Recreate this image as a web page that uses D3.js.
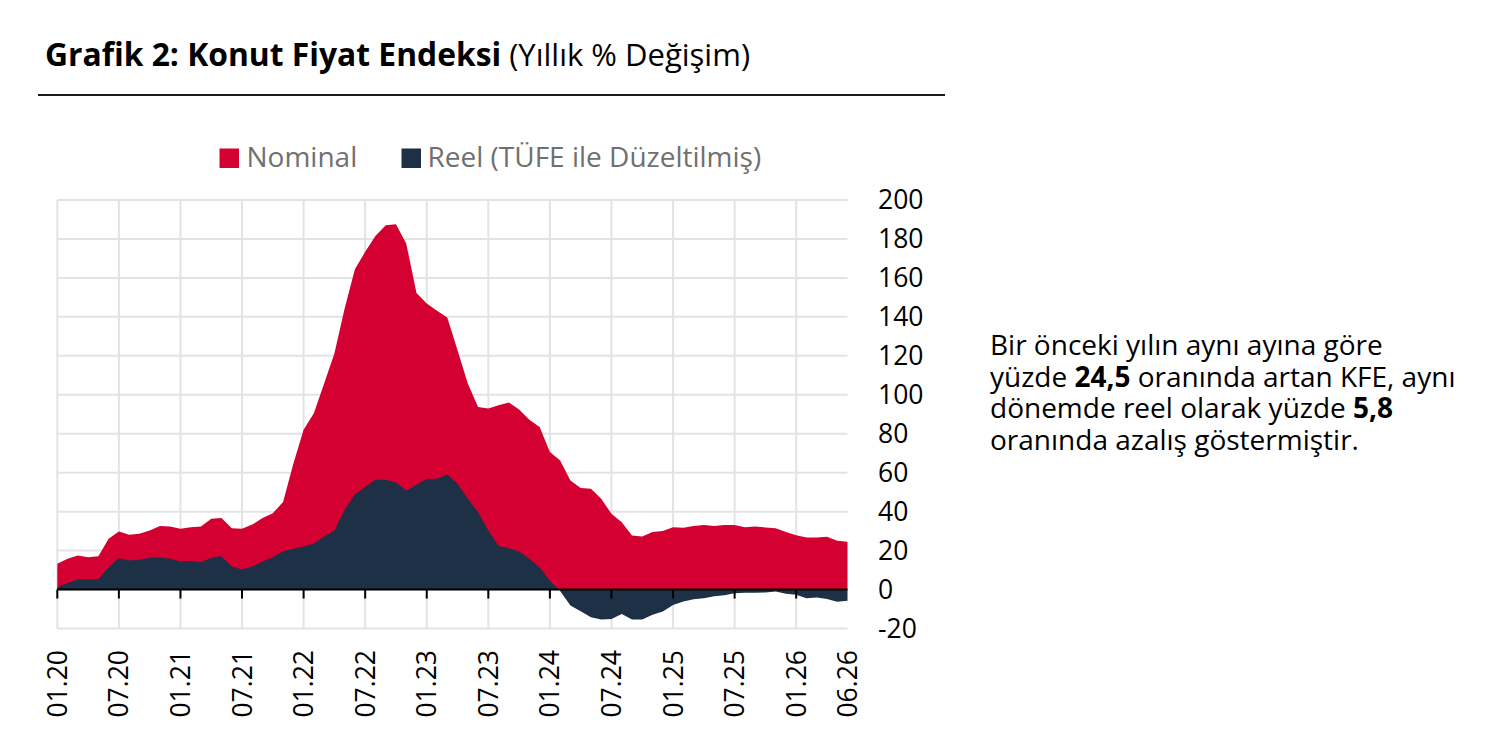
<!DOCTYPE html>
<html><head><meta charset="utf-8">
<script src="https://cdn.jsdelivr.net/npm/d3@7/dist/d3.min.js"></script>
<style>
html,body{margin:0;padding:0;background:#fff;}
svg{display:block;font-family:"Open Sans",sans-serif;}
</style></head>
<body>
<svg id="chart" width="1489" height="750"></svg>
<script>
// Monthly data, 01.2020 .. 06.2026
const nominal = [13.2,15.8,17.5,16.6,17.1,26.1,29.8,28.1,28.6,30.3,32.6,32.4,
  31.2,32.0,32.4,36.3,36.7,31.5,31.2,33.4,36.7,39.2,44.9,64.6,
  82.1,90.5,105.8,121.2,144.3,164.5,173.4,181.5,187.1,187.5,177.7,152.3,
  146.9,143.1,139.7,122.9,105.8,93.7,92.9,94.6,96.0,92.5,87.2,83.4,
  70.6,66.3,56.0,52.1,51.8,46.6,38.9,34.6,27.8,27.2,29.5,30.0,
  32.0,31.7,32.6,33.1,32.6,33.1,33.1,32.0,32.4,31.9,31.5,29.5,
  27.9,26.7,26.7,27.1,25.0,24.5];
const real = [1.2,3.3,5.1,5.3,5.3,11.5,16.1,14.9,15.3,16.3,16.5,15.8,
  14.4,14.6,14.0,16.3,17.1,11.8,10.3,11.8,14.4,16.6,19.7,20.9,
  22.1,23.7,27.2,30.3,41.0,48.8,52.6,56.4,56.4,54.9,50.9,53.8,
  56.7,56.9,59.1,54.3,46.6,39.7,30.3,22.3,21.2,19.5,15.8,11.5,
  4.5,-0.8,-8.2,-11.1,-14.2,-15.4,-15.1,-12.5,-15.4,-15.4,-13.0,-11.3,
  -7.9,-6.2,-5.0,-4.5,-3.4,-2.9,-1.9,-1.7,-1.7,-1.5,-1.0,-2.2,
  -2.7,-4.5,-4.1,-4.8,-6.3,-5.8];
const xTickIdx = [0,6,12,18,24,30,36,42,48,54,60,66,72,77];
const xTickLabels = ["01.20","07.20","01.21","07.21","01.22","07.22","01.23","07.23","01.24","07.24","01.25","07.25","01.26","06.26"];
const yTicks = [-20,0,20,40,60,80,100,120,140,160,180,200];
const seriesNames = ["Nominal","Reel (TÜFE ile Düzeltilmiş)"];
const colors = ["#d50032","#1d3045"];

const svg = d3.select("#chart");
const x = d3.scaleLinear().domain([0, nominal.length-1]).range([57.3, 847.5]);
const y = d3.scaleLinear().domain([-20,200]).range([628.5,200]);

// Title
const t = svg.append("text").attr("x",45).attr("y",65.5).attr("font-size",31.8).attr("fill","#000");
t.append("tspan").attr("font-weight",700).text("Grafik 2: Konut Fiyat Endeksi");
t.append("tspan").attr("font-weight",400).attr("font-size",31).text(" (Yıllık % Değişim)");
svg.append("line").attr("x1",38).attr("x2",945).attr("y1",95).attr("y2",95)
  .attr("stroke","#1a1a1a").attr("stroke-width",2);

// Legend
const leg = [{x:219.5,tx:246.5},{x:401.5,tx:427.5}];
seriesNames.forEach((n,i)=>{
  svg.append("rect").attr("x",leg[i].x).attr("y",148.5).attr("width",19.5).attr("height",19.5).attr("fill",colors[i]);
  svg.append("text").attr("x",leg[i].tx).attr("y",167).attr("font-size",28).attr("fill","#707070").text(n);
});

// Gridlines
const g = svg.append("g");
g.selectAll("line.h").data(yTicks).join("line")
  .attr("x1",x.range()[0]).attr("x2",x.range()[1]).attr("y1",d=>y(d)).attr("y2",d=>y(d))
  .attr("stroke","#e3e3e3").attr("stroke-width",2);
g.selectAll("line.v").data(xTickIdx.slice(0,-1)).join("line")
  .attr("x1",d=>x(d)).attr("x2",d=>x(d)).attr("y1",y(200)).attr("y2",y(-20))
  .attr("stroke","#e3e3e3").attr("stroke-width",2);

// Areas
const area = d3.area().x((d,i)=>x(i)).y0(y(0)).y1(d=>y(d));
svg.append("path").datum(nominal).attr("d",area).attr("fill",colors[0]);
svg.append("path").datum(real).attr("d",area).attr("fill",colors[1]);

// Zero axis + ticks
svg.append("line").attr("x1",x.range()[0]).attr("x2",x.range()[1]).attr("y1",y(0)).attr("y2",y(0))
  .attr("stroke","#000").attr("stroke-width",2);
svg.selectAll("line.tick").data(xTickIdx.slice(0,-1)).join("line")
  .attr("x1",d=>x(d)).attr("x2",d=>x(d)).attr("y1",y(0)).attr("y2",y(0)+9)
  .attr("stroke","#000").attr("stroke-width",2);

// Y labels
svg.selectAll("text.yl").data(yTicks).join("text")
  .attr("x",878).attr("y",d=>y(d)).attr("dy","0.35em").attr("font-size",26.5).attr("fill","#000")
  .text(d=>d);

// X labels
svg.selectAll("text.xl").data(xTickIdx).join("text")
  .attr("transform",(d)=>`translate(${x(d)},650) rotate(-90)`)
  .attr("text-anchor","end").attr("dy","0.36em").attr("font-size",26.5).attr("fill","#000")
  .text((d,i)=>xTickLabels[i]);

// Side text
const lines = [
  [["Bir önceki yılın aynı ayına göre",400]],
  [["yüzde ",400],["24,5",700],[" oranında artan KFE, aynı",400]],
  [["dönemde reel olarak yüzde ",400],["5,8",700]],
  [["oranında azalış göstermiştir.",400]]
];
lines.forEach((ln,i)=>{
  const tx = svg.append("text").attr("x",990).attr("y",355+i*31.7).attr("font-size",28).attr("fill","#000");
  ln.forEach(([s,w])=>tx.append("tspan").attr("font-weight",w).text(s));
});
</script>
</body></html>
